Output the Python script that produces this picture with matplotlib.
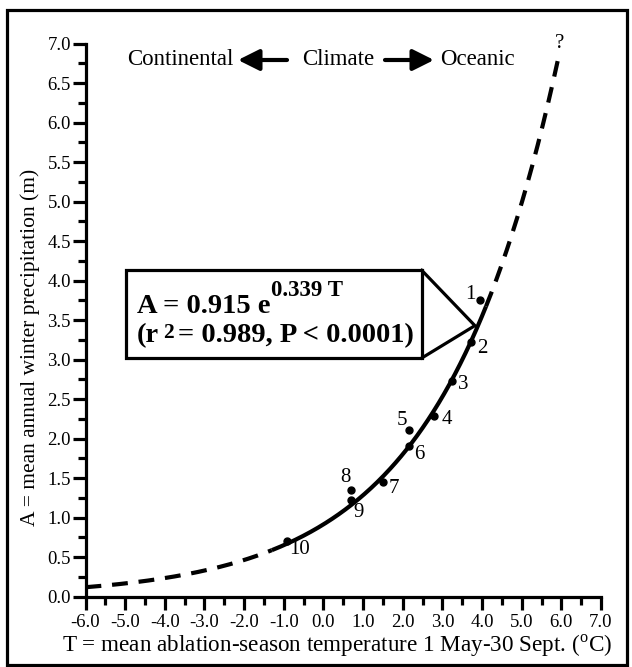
import numpy as np
import matplotlib
matplotlib.use('Agg')
from matplotlib import pyplot as plt
from matplotlib.patches import Rectangle, FancyArrowPatch
from matplotlib.lines import Line2D

plt.rcParams['font.family'] = 'Liberation Serif'
plt.rcParams['mathtext.fontset'] = 'custom'
plt.rcParams['mathtext.rm'] = 'Liberation Serif'
plt.rcParams['axes.unicode_minus'] = False

# glacier stations: mean ablation-season temperature vs winter precipitation
station = ['1', '2', '3', '4', '5', '6', '7', '8', '9', '10']
temp = [3.95, 3.72, 3.24, 2.80, 2.17, 2.17, 1.50, 0.70, 0.69, -0.92]
precip = [3.76, 3.22, 2.73, 2.29, 2.11, 1.91, 1.45, 1.35, 1.22, 0.71]
# label offsets (pixels) from each point
lab_dx = [-10, 11, 11, 12, -8, 10, 11, -6, 8, 13]
lab_dy = [5, -6, -4, -4, 9, -9, -6, 13, -12, -9]

# fitted curve A = a * exp(b * T)
fit_a = 0.915
fit_b = 0.339
solid_range = (-1.3, 4.1)
dash_low = (-6.0, -1.3)
dash_high = (4.1, 5.95)

x_ticks = list(range(-6, 8))
x_labels = ['%.1f' % v for v in x_ticks]
y_ticks = [0.0, 0.5, 1.0, 1.5, 2.0, 2.5, 3.0, 3.5, 4.0, 4.5, 5.0, 5.5, 6.0, 6.5, 7.0]
y_labels = ['%.1f' % v for v in y_ticks]

W, H = 632, 667
fig = plt.figure(figsize=(W / 100, H / 100), dpi=100)
ax = fig.add_axes([85.5 / W, 1 - 596.7 / H, (601 - 85.5) / W, (596.7 - 43.5) / H])
ax.set_xlim(-6, 7)
ax.set_ylim(0, 7)

for s in ['top', 'right']:
    ax.spines[s].set_visible(False)
for s in ['left', 'bottom']:
    ax.spines[s].set_linewidth(2.3)

ax.set_xticks(x_ticks)
ax.set_xticklabels(x_labels, fontsize=13.5)
ax.set_xticks(np.arange(-5.5, 7, 1.0), minor=True)
ax.set_yticks(y_ticks)
ax.set_yticklabels(y_labels, fontsize=13.5)
ax.set_yticks(np.arange(0.25, 7, 0.5), minor=True)
ax.tick_params(which='major', direction='out', length=9.5, width=2.3, pad=1)
ax.tick_params(which='minor', direction='out', length=5.8, width=2.3)
ax.tick_params(axis='x', which='major', pad=3)

# fitted curve
def curve(lo, hi):
    t = np.linspace(lo, hi, 200)
    return t, fit_a * np.exp(fit_b * t)

t, a = curve(*solid_range)
ax.plot(t, a, color='black', lw=3.0, solid_capstyle='butt', clip_on=False)
for rng in (dash_low, dash_high):
    t, a = curve(*rng)
    ax.plot(t, a, color='black', lw=3.0, dashes=(3.8, 2.6), dash_capstyle='butt',
            clip_on=False)

ax.plot(temp, precip, 'o', color='black', ms=5, clip_on=False)
for i in range(len(station)):
    ax.annotate(station[i], (temp[i], precip[i]), xytext=(lab_dx[i], lab_dy[i]),
                textcoords='offset pixels', ha='center', va='center', fontsize=15)

ax.text(5.96, 7.0, '?', ha='center', va='center', fontsize=15)

# callout box
box_l, box_r, box_b, box_t = -4.97, 2.48, 3.02, 4.13
tip = (3.82, 3.43)
ax.add_patch(Rectangle((box_l, box_b), box_r - box_l, box_t - box_b, fill=False,
                       lw=2.3, ec='black', zorder=4, clip_on=False))
ax.add_line(Line2D([box_r, tip[0], box_r], [box_t, tip[1], box_b], color='black',
                   lw=2.3, zorder=4, clip_on=False))

fig.canvas.draw()
rend = fig.canvas.get_renderer()

def put(x, y, s, size, bold=False):
    # x, y in pixels from top-left; returns right edge in pixels
    txt = fig.text(x / W, 1 - y / H, s, fontsize=size, ha='left', va='baseline',
                   fontweight='bold' if bold else 'normal')
    return txt.get_window_extent(rend).x1

x = put(136.7, 313, 'A = 0.915 e', 20.5, True)
put(x + 1, 296.5, '0.339 T', 16.5, True)
x = put(136.7, 341.7, '(r', 20.5, True)
x = put(x + 4, 337.5, '2', 15.5, True)
put(x + 5, 341.7, '= 0.989, P < 0.0001)', 20.5, True)

# climate header
put(127, 65, 'Continental', 16.5)
put(302, 65, 'Climate', 16.5)
put(440, 65, 'Oceanic', 16.5)
for tail, head in [((287, 60), (238, 60)), ((385, 60), (434, 60))]:
    fig.add_artist(FancyArrowPatch(
        (tail[0] / W, 1 - tail[1] / H), (head[0] / W, 1 - head[1] / H),
        transform=fig.transFigure, arrowstyle='-|>,head_length=0.8,head_width=0.4',
        mutation_scale=16, lw=3, color='black', shrinkA=0, shrinkB=0))

# axis labels
fig.text(337 / W, 1 - 651.5 / H,
         'T = mean ablation-season temperature 1 May-30 Sept. ($^{\\rm o}$C)',
         fontsize=16.7, ha='center', va='baseline')
fig.text(30 / W, 1 - 347 / H, 'A = mean annual winter precipitation (m)',
         fontsize=15.5, ha='center', va='center', rotation=90)

# outer frame
fig.add_artist(Rectangle((6.5 / W, 1 - 665 / H), (627 - 6.5) / W, (665 - 10) / H,
                         transform=fig.transFigure, fill=False, lw=2.3, ec='black'))

fig.savefig('out.png', dpi=100)
